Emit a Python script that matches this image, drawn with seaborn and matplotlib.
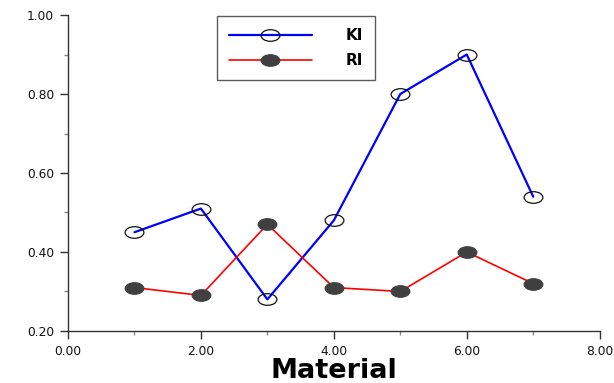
import matplotlib
matplotlib.use("Agg")
import matplotlib.pyplot as plt
import seaborn as sns
import pandas as pd
from matplotlib.path import Path
from matplotlib.transforms import Affine2D
from matplotlib.ticker import MultipleLocator, FormatStrFormatter

material = [1, 2, 3, 4, 5, 6, 7]
ki = [0.45, 0.51, 0.28, 0.48, 0.80, 0.90, 0.54]
ri = [0.31, 0.29, 0.47, 0.31, 0.30, 0.40, 0.32]

df = pd.DataFrame({"Material": material, "KI": ki, "RI": ri})

sns.set_style("white")
plt.rcParams['font.family'] = ['DejaVu Sans']

ellipse = Path.unit_circle().transformed(Affine2D().scale(1.0, 0.62))

fig = plt.figure(figsize=(6.14, 3.83), dpi=100)
ax = fig.add_axes([0.1107, 0.1358, 0.866, 0.825])

sns.lineplot(data=df, x="Material", y="KI", ax=ax, color="#0000ff", lw=1.6,
             marker=ellipse, markersize=13.5, markerfacecolor="none",
             markeredgecolor="#111111", markeredgewidth=0.9, label="KI")
sns.lineplot(data=df, x="Material", y="RI", ax=ax, color="#ff0000", lw=1.2,
             marker=ellipse, markersize=13.5, markerfacecolor="#404040",
             markeredgecolor="#404040", markeredgewidth=0.8, label="RI")

ax.set_xlim(0, 8)
ax.set_ylim(0.2, 1.0)
ax.xaxis.set_major_locator(MultipleLocator(2))
ax.xaxis.set_minor_locator(MultipleLocator(1))
ax.yaxis.set_major_locator(MultipleLocator(0.2))
ax.yaxis.set_minor_locator(MultipleLocator(0.1))
ax.xaxis.set_major_formatter(FormatStrFormatter('%.2f'))
ax.yaxis.set_major_formatter(FormatStrFormatter('%.2f'))
ax.tick_params(axis='both', which='major', direction='out', length=6, width=1,
               color='#333333', labelsize=8.8, labelcolor='#111111',
               bottom=True, left=True, pad=4)
ax.tick_params(axis='both', which='minor', direction='out', length=3, width=1,
               color='#888888', bottom=True, left=True)
for s in ['top', 'right']:
    ax.spines[s].set_visible(False)
for s in ['left', 'bottom']:
    ax.spines[s].set_color('#333333')
    ax.spines[s].set_linewidth(1)

ax.set_xlabel("Material", fontsize=19.5, fontweight='bold', labelpad=0,
              color='black')
ax.set_ylabel("")

leg = ax.legend(loc='upper left', bbox_to_anchor=(217/614, 1 - 16/383),
                bbox_transform=fig.transFigure, frameon=True, fancybox=False,
                edgecolor='#333333', handlelength=5.4, borderpad=0.8,
                labelspacing=0.65, handletextpad=2.2, borderaxespad=0,
                prop={'weight': 'bold', 'size': 11})
leg.get_frame().set_linewidth(1)
for t in leg.get_texts():
    t.set_color('black')

fig.savefig("out.png", dpi=100)
